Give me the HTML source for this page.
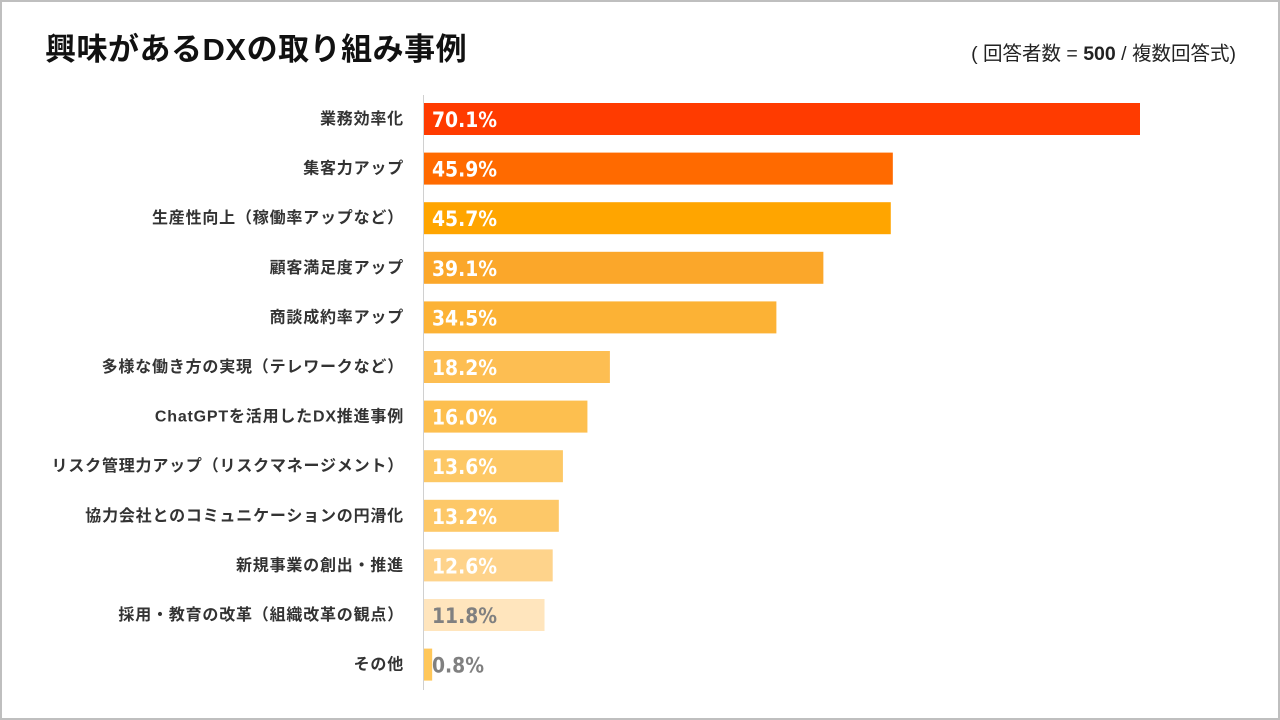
<!DOCTYPE html>
<html><head><meta charset="utf-8">
<style>
body{margin:0;width:1280px;height:720px;background:#fff;font-family:"Liberation Sans","Noto Sans CJK JP",sans-serif;overflow:hidden}
#frame{position:absolute;left:0;top:0;width:1276px;height:716px;border:2px solid #bfbfbf}
#title{position:absolute;left:45px;top:24px;font-size:31px;font-weight:bold;color:#111;letter-spacing:0.5px}
#note{position:absolute;right:44px;top:37px;font-size:19.5px;color:#222}
</style></head><body>
<div id="frame"></div>
<div id="title">興味があるDXの取り組み事例</div>
<div id="note">( 回答者数 = <b>500</b> / 複数回答式)</div>
<svg id="chart" width="1280" height="720" style="position:absolute;left:0;top:0"></svg>
<script>
const categories=["業務効率化","集客力アップ","生産性向上（稼働率アップなど）","顧客満足度アップ","商談成約率アップ","多様な働き方の実現（テレワークなど）","ChatGPTを活用したDX推進事例","リスク管理力アップ（リスクマネージメント）","協力会社とのコミュニケーションの円滑化","新規事業の創出・推進","採用・教育の改革（組織改革の観点）","その他"];
const values=[70.1,45.9,45.7,39.1,34.5,18.2,16.0,13.6,13.2,12.6,11.8,0.8];
const colors=["#FF3B00","#FF6A00","#FFA500","#FBA72A","#FCB235","#FDBE52","#FDBF4F","#FDC865","#FDC868","#FED38B","#FFE5BD","#FFC75A"];
const labelColors=["#fff","#fff","#fff","#fff","#fff","#fff","#fff","#fff","#fff","#fff","#808080","#808080"];
const svg=document.getElementById('chart');
const NS="http://www.w3.org/2000/svg";
const x0=424, pxPer=716/70.1;
const xScale=v=>v*pxPer;
const yScale=i=>119+i*49.6;
const ax=document.createElementNS(NS,'line');
ax.setAttribute('x1',423.5);ax.setAttribute('x2',423.5);ax.setAttribute('y1',95);ax.setAttribute('y2',690);
ax.setAttribute('stroke','#d0d0d0');ax.setAttribute('stroke-width','1');


svg.appendChild(ax);
categories.forEach((c,i)=>{
  const y=yScale(i);
  const r=document.createElementNS(NS,'rect');
  r.setAttribute('x',x0);r.setAttribute('y',y-16);r.setAttribute('width',xScale(values[i]));r.setAttribute('height',32);
  r.setAttribute('fill',colors[i]);
  
  
  svg.appendChild(r);
  const t=document.createElementNS(NS,'text');
  t.setAttribute('x',404);t.setAttribute('y',y+5);t.setAttribute('text-anchor','end');
  t.setAttribute('font-size','16');t.setAttribute('font-weight','bold');t.setAttribute('fill','#333');
  t.setAttribute('letter-spacing','0.8');
  t.textContent=c;
  
  
  svg.appendChild(t);
  const v=document.createElementNS(NS,'text');
  const s=values[i].toFixed(1)+'%';
  v.setAttribute('x',432);v.setAttribute('y',y+8);
  v.setAttribute('font-size','21');v.setAttribute('font-weight','bold');v.setAttribute('fill',labelColors[i]);
  v.setAttribute('font-family','"DejaVu Sans",sans-serif');
  v.setAttribute('textLength',String(s.length*13));
  v.setAttribute('lengthAdjust','spacingAndGlyphs');
  v.textContent=s;
  
  
  svg.appendChild(v);
});
</script>
</body></html>
